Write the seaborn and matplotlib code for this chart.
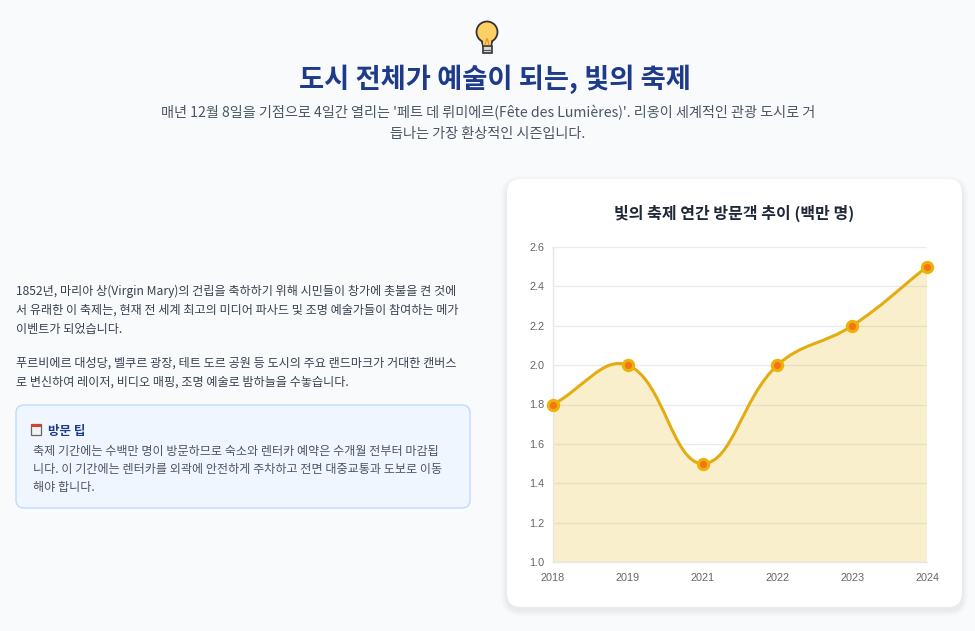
import numpy as np
import pandas as pd
import seaborn as sns
import matplotlib.pyplot as plt
from matplotlib.patches import FancyBboxPatch, PathPatch, Ellipse, Rectangle, Polygon
from matplotlib.path import Path

# data
years = ['2018', '2019', '2021', '2022', '2023', '2024']
visitors = [1.8, 2.0, 1.5, 2.0, 2.2, 2.5]
y_ticks = [1.0, 1.2, 1.4, 1.6, 1.8, 2.0, 2.2, 2.4, 2.6]

title = '도시 전체가 예술이 되는, 빛의 축제'
subtitle = ["매년 12월 8일을 기점으로 4일간 열리는 '페트 데 뤼미에르(Fête des Lumières)'. 리옹이 세계적인 관광 도시로 거",
            '듭나는 가장 환상적인 시즌입니다.']
para1 = ['1852년, 마리아 상(Virgin Mary)의 건립을 축하하기 위해 시민들이 창가에 촛불을 켠 것에',
         '서 유래한 이 축제는, 현재 전 세계 최고의 미디어 파사드 및 조명 예술가들이 참여하는 메가',
         '이벤트가 되었습니다.']
para2 = ['푸르비에르 대성당, 벨쿠르 광장, 테트 도르 공원 등 도시의 주요 랜드마크가 거대한 캔버스',
         '로 변신하여 레이저, 비디오 매핑, 조명 예술로 밤하늘을 수놓습니다.']
tip_title = '방문 팁'
tip_body = ['축제 기간에는 수백만 명이 방문하므로 숙소와 렌터카 예약은 수개월 전부터 마감됩',
            '니다. 이 기간에는 렌터카를 외곽에 안전하게 주차하고 전면 대중교통과 도보로 이동',
            '해야 합니다.']
chart_title = '빛의 축제 연간 방문객 추이 (백만 명)'

sns.set_theme(style='white')
plt.rcParams['font.family'] = ['Noto Sans CJK KR', 'DejaVu Sans']

W, H = 975, 631
fig = plt.figure(figsize=(W / 100, H / 100), dpi=100)
fig.patch.set_facecolor('#f8fafc')

# page layer in pixel coordinates
page = fig.add_axes([0, 0, 1, 1], zorder=0)
page.set_xlim(0, W)
page.set_ylim(H, 0)
page.axis('off')

# bulb icon
page.add_patch(Polygon([[481, 38], [493, 38], [491, 46], [483, 46]], closed=True,
                       fc='#fcd065', ec='#333333', lw=1.3, zorder=2))
page.add_patch(Ellipse((487, 32), 21, 21, fc='#fcd065', ec='#333333', lw=1.3, zorder=3))
page.add_patch(Polygon([[482.5, 38], [491.5, 38], [490.5, 46], [483.5, 46]], closed=True,
                       fc='#fcd065', ec='none', zorder=4))
page.plot([485, 486.5, 487.5, 489], [45, 39, 39, 45], color='#e8902a', lw=0.9, zorder=5)
page.add_patch(Rectangle((482.5, 46), 9, 7, fc='#d8d8d8', ec='#333333', lw=1.2, zorder=4))
page.plot([483, 491], [49.5, 49.5], color='#555555', lw=0.8, zorder=5)

page.text(495, 79, title, ha='center', va='center', fontsize=19.7, fontweight='bold', color='#1e3a8a')
page.text(488, 113, subtitle[0], ha='center', va='center', fontsize=10.2, color='#4b5563')
page.text(488, 134, subtitle[1], ha='center', va='center', fontsize=10.2, color='#4b5563')

for i, line in enumerate(para1):
    page.text(16, 291 + i * 19.5, line, ha='left', va='center', fontsize=8.7, color='#374151')
for i, line in enumerate(para2):
    page.text(16, 363 + i * 19.5, line, ha='left', va='center', fontsize=8.7, color='#374151')

# tip box
page.add_patch(FancyBboxPatch((16, 405), 454, 103, boxstyle='round,pad=0,rounding_size=8',
                              fc='#eff6ff', ec='#bfdbfe', lw=1))
page.add_patch(Rectangle((31, 424), 10, 11, fc='#f3f3f3', ec='#666666', lw=0.9, zorder=3))
page.add_patch(Rectangle((31, 424), 10, 3, fc='#d9412f', ec='none', zorder=4))
page.text(48, 431, tip_title, ha='left', va='center', fontsize=9, fontweight='bold', color='#1e3a8a')
for i, line in enumerate(tip_body):
    page.text(33, 451 + i * 18.5, line, ha='left', va='center', fontsize=8.7, color='#4b5563')

# chart card with soft shadow
for k, a in enumerate([0.012, 0.014, 0.016, 0.02]):
    g = 6 - k * 1.5
    page.add_patch(FancyBboxPatch((507 - g, 179 - g + 3), 455 + 2 * g, 428 + 2 * g,
                                  boxstyle='round,pad=0,rounding_size=%g' % (14 + g),
                                  fc='#1f2937', ec='none', alpha=a))
page.add_patch(FancyBboxPatch((507, 179), 455, 428, boxstyle='round,pad=0,rounding_size=14',
                              fc='white', ec='none'))
page.text(734, 213, chart_title, ha='center', va='center', fontsize=11.5, fontweight='bold', color='#1f2937')

# chart axes
L, R, T, B = 553, 927, 247, 562
ax = fig.add_axes([L / W, (H - B) / H, (R - L) / W, (B - T) / H], zorder=2)
ax.patch.set_alpha(0)
ax.set_xlim(0, len(years) - 1)
ax.set_ylim(1.0, 2.6)

# Chart.js style spline (tension 0.4) computed in pixel space
xs = np.arange(len(years), dtype=float)
pts = ax.transData.transform(np.column_stack([xs, visitors]))
tension = 0.4
ctrl_prev, ctrl_next = [], []
n = len(pts)
for i in range(n):
    prev = pts[i - 1] if i > 0 else pts[i]
    cur = pts[i]
    nxt = pts[i + 1] if i < n - 1 else pts[i]
    d01 = np.hypot(*(cur - prev))
    d12 = np.hypot(*(nxt - cur))
    s01 = d01 / (d01 + d12)
    s12 = d12 / (d01 + d12)
    ctrl_prev.append(cur - tension * s01 * (nxt - prev))
    ctrl_next.append(cur + tension * s12 * (nxt - prev))
verts = [pts[0]]
codes = [Path.MOVETO]
for i in range(n - 1):
    verts += [ctrl_next[i], ctrl_prev[i + 1], pts[i + 1]]
    codes += [Path.CURVE4] * 3
inv = ax.transData.inverted()
verts = inv.transform(np.array(verts))

fill_verts = np.vstack([verts, [[xs[-1], 1.0], [xs[0], 1.0], verts[0]]])
fill_codes = codes + [Path.LINETO, Path.LINETO, Path.CLOSEPOLY]
ax.add_patch(PathPatch(Path(fill_verts, fill_codes), fc='#eab308', alpha=0.2, ec='none', zorder=1))
ax.add_patch(PathPatch(Path(verts, codes), fc='none', ec='#e3ad12', lw=2.2, zorder=2,
                       capstyle='round', joinstyle='round'))

df = pd.DataFrame({'year': years, 'visitors': visitors})
sns.scatterplot(data=df, x='year', y='visitors', ax=ax, s=55, color='#f97316',
                edgecolor='#eab308', linewidth=2.2, zorder=3, clip_on=False)
ax.set_xlim(0, len(years) - 1)
ax.set_ylim(1.0, 2.6)

ax.set_yticks(y_ticks)
ax.set_yticklabels(['%.1f' % v for v in y_ticks])
ax.set_xticks(xs)
ax.set_xticklabels(years)
ax.set_xlabel('')
ax.set_ylabel('')
ax.grid(axis='y', color='#e8ebf0', lw=1)
ax.grid(axis='x', visible=False)
ax.set_axisbelow(True)
for s in ['top', 'right']:
    ax.spines[s].set_visible(False)
for s in ['left', 'bottom']:
    ax.spines[s].set_color('#e3e6eb')
    ax.spines[s].set_linewidth(1)
ax.tick_params(axis='y', length=4.5, width=1, color='#e8ebf0', pad=1.5, labelsize=7.8, labelcolor='#666666')
ax.tick_params(axis='x', length=0, pad=8, labelsize=7.8, labelcolor='#666666')
for lab in ax.get_xticklabels() + ax.get_yticklabels():
    lab.set_fontfamily(['Liberation Sans', 'DejaVu Sans'])

fig.savefig('out.png', dpi=100, facecolor=fig.get_facecolor())
